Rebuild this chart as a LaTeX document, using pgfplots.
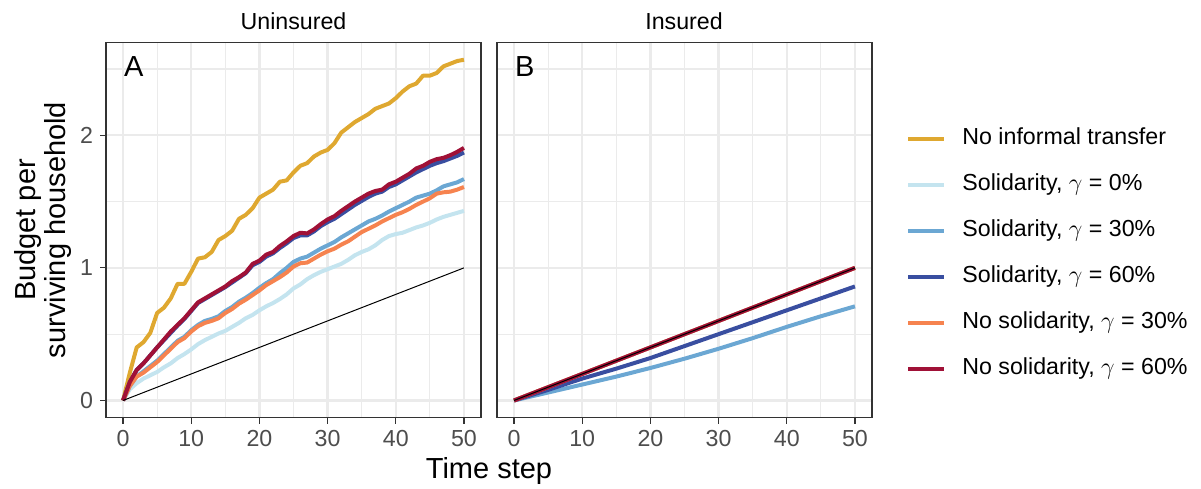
\documentclass[border=0pt]{standalone}
\usepackage{pgfplots}
\usepackage{pgfplotstable}
\pgfplotsset{compat=1.18}
\usepackage{fontspec}
\setmainfont{Liberation Sans}

\definecolor{cgold}{RGB}{223,168,48}
\definecolor{clb}{RGB}{196,228,239}
\definecolor{cmb}{RGB}{107,167,211}
\definecolor{cdb}{RGB}{57,78,160}
\definecolor{cor}{RGB}{246,131,79}
\definecolor{crd}{RGB}{160,17,55}
\definecolor{grey20}{RGB}{51,51,51}
\definecolor{grey30}{RGB}{77,77,77}
\definecolor{grey92}{RGB}{235,235,235}

% uninsured panel: t, no transfer, sol 0%, sol 30%, sol 60%, nosol 30%, nosol 60%
\pgfplotstableread{
t gold lb mb db or rd
0 0 0 0 0 0 0
1 0.21 0.085 0.11 0.14 0.11 0.14
2 0.40 0.13 0.18 0.23 0.18 0.23
3 0.44 0.165 0.22 0.28 0.21 0.28
4 0.51 0.19 0.26 0.34 0.25 0.34
5 0.66 0.215 0.30 0.40 0.29 0.40
6 0.70 0.25 0.35 0.455 0.34 0.46
7 0.77 0.28 0.40 0.51 0.39 0.52
8 0.88 0.32 0.45 0.565 0.44 0.57
9 0.88 0.35 0.48 0.615 0.47 0.62
10 0.97 0.385 0.53 0.675 0.52 0.68
11 1.07 0.425 0.57 0.735 0.56 0.74
12 1.08 0.455 0.60 0.765 0.585 0.77
13 1.12 0.48 0.615 0.795 0.60 0.80
14 1.21 0.505 0.635 0.825 0.62 0.83
15 1.24 0.525 0.675 0.855 0.66 0.86
16 1.28 0.555 0.705 0.89 0.69 0.90
17 1.37 0.585 0.745 0.925 0.73 0.93
18 1.40 0.62 0.775 0.96 0.76 0.965
19 1.45 0.645 0.81 1.02 0.795 1.03
20 1.53 0.68 0.85 1.045 0.83 1.055
21 1.56 0.71 0.885 1.085 0.87 1.10
22 1.59 0.735 0.915 1.11 0.90 1.12
23 1.65 0.765 0.96 1.15 0.93 1.165
24 1.66 0.80 1.00 1.185 0.965 1.20
25 1.72 0.845 1.045 1.225 1.01 1.24
26 1.77 0.875 1.07 1.245 1.035 1.265
27 1.79 0.915 1.085 1.245 1.04 1.26
28 1.84 0.945 1.115 1.275 1.07 1.29
29 1.87 0.97 1.145 1.315 1.10 1.33
30 1.89 0.99 1.17 1.345 1.125 1.365
31 1.94 1.01 1.195 1.37 1.145 1.39
32 2.02 1.03 1.23 1.405 1.175 1.43
33 2.06 1.06 1.26 1.44 1.20 1.465
34 2.10 1.095 1.29 1.475 1.235 1.50
35 2.13 1.12 1.32 1.505 1.27 1.53
36 2.16 1.14 1.35 1.535 1.295 1.56
37 2.20 1.17 1.37 1.56 1.32 1.58
38 2.22 1.21 1.395 1.575 1.35 1.59
39 2.24 1.24 1.425 1.61 1.375 1.63
40 2.28 1.255 1.45 1.63 1.40 1.65
41 2.33 1.265 1.475 1.66 1.42 1.68
42 2.37 1.285 1.50 1.69 1.445 1.71
43 2.39 1.305 1.53 1.72 1.475 1.75
44 2.45 1.32 1.545 1.745 1.50 1.77
45 2.45 1.34 1.56 1.77 1.525 1.80
46 2.47 1.365 1.585 1.79 1.56 1.82
47 2.52 1.385 1.615 1.805 1.57 1.83
48 2.54 1.40 1.63 1.825 1.575 1.85
49 2.56 1.415 1.645 1.845 1.59 1.875
50 2.57 1.43 1.67 1.87 1.61 1.905
}\uninsured

% insured panel
\pgfplotstableread{
t gold lb mb db or rd
0 0 0 0 0 0 0
5 0.1 0.1 0.06 0.08 0.1 0.1
10 0.2 0.2 0.12 0.165 0.2 0.2
15 0.3 0.3 0.18 0.24 0.3 0.3
20 0.4 0.4 0.245 0.32 0.4 0.4
25 0.5 0.5 0.315 0.41 0.5 0.5
30 0.6 0.6 0.39 0.50 0.6 0.6
35 0.7 0.7 0.47 0.59 0.7 0.7
40 0.8 0.8 0.555 0.68 0.8 0.8
45 0.9 0.9 0.635 0.77 0.9 0.9
50 1.0 1.0 0.71 0.86 1.0 1.0
}\insured

\pgfplotsset{
  panel/.style={
    scale only axis, width=187.5pt, height=187.4pt,
    xmin=-2.5, xmax=52.5, ymin=-0.1285, ymax=2.6985,
    xtick={0,10,...,50}, ytick={0,1,2},
    minor xtick={5,15,...,45}, minor ytick={0.5,1.5,2.5},
    grid=both,
    major grid style={grey92, line width=1.1pt},
    minor grid style={grey92, line width=0.55pt},
    axis line style={grey20, line width=0.6pt},
    tick align=outside, xtick pos=left, ytick pos=left,
    major tick length=3pt, minor tick length=0pt,
    tick style={grey20, line width=0.6pt},
    ticklabel style={font=\fontsize{11.6}{13}\selectfont, text=grey30},
    /pgf/number format/assume math mode=true,
    every axis plot/.append style={line width=2pt, line join=round},
  },
  legend image code/.code={\draw[#1] (0pt,0pt) -- (18pt,0pt);},
}

\begin{document}
\begin{tikzpicture}
\path[use as bounding box] (0,0) rectangle (600.5pt,244pt);

\begin{axis}[panel, at={(53pt,35.25pt)}, anchor=south west]
  \addplot[cgold] table[x=t, y=gold] {\uninsured};
  \addplot[clb] table[x=t, y=lb] {\uninsured};
  \addplot[cmb] table[x=t, y=mb] {\uninsured};
  \addplot[cdb] table[x=t, y=db] {\uninsured};
  \addplot[cor] table[x=t, y=or] {\uninsured};
  \addplot[crd] table[x=t, y=rd] {\uninsured};
  \addplot[black, line width=0.5pt] coordinates {(0,0) (50,1)};
\end{axis}

\begin{axis}[panel, at={(248.5pt,35.25pt)}, anchor=south west,
    yticklabels={}, ytick style={draw=none},
    legend style={at={(1.0907,0.435)}, anchor=west, draw=none, fill=none,
      inner sep=0pt, font=\fontsize{11.6}{13}\selectfont, row sep=11.5pt,
      nodes={inner sep=0pt, text height=8.5pt, text depth=3pt},
      /tikz/every odd column/.append style={column sep=8pt}},
    legend cell align=left]
  \addplot[cgold] table[x=t, y=gold] {\insured};
  \addlegendentry{No informal transfer}
  \addplot[clb] table[x=t, y=lb] {\insured};
  \addlegendentry{Solidarity, \(\gamma\) = 0\%}
  \addplot[cmb] table[x=t, y=mb] {\insured};
  \addlegendentry{Solidarity, \(\gamma\) = 30\%}
  \addplot[cdb] table[x=t, y=db] {\insured};
  \addlegendentry{Solidarity, \(\gamma\) = 60\%}
  \addplot[cor] table[x=t, y=or] {\insured};
  \addlegendentry{No solidarity, \(\gamma\) = 30\%}
  \addplot[crd] table[x=t, y=rd] {\insured};
  \addlegendentry{No solidarity, \(\gamma\) = 60\%}
  \addplot[black, line width=0.5pt, forget plot] coordinates {(0,0) (50,1)};
\end{axis}

\node[font=\fontsize{11.6}{13}\selectfont, anchor=base] at (146.75pt,229.25pt) {Uninsured};
\node[font=\fontsize{11.6}{13}\selectfont, anchor=base] at (342pt,229.25pt) {Insured};
\node[font=\fontsize{14.5}{16}\selectfont, anchor=base] at (244.5pt,5pt) {Time step};
\node[font=\fontsize{14.5}{13.2}\selectfont, align=center, rotate=90] at (21.5pt,129pt) {Budget per\\surviving household};
\node[font=\fontsize{14.5}{16}\selectfont, anchor=base west] at (58.5pt,205.5pt) {A};
\node[font=\fontsize{14.5}{16}\selectfont, anchor=base west] at (254pt,205.5pt) {B};
\end{tikzpicture}
\end{document}
